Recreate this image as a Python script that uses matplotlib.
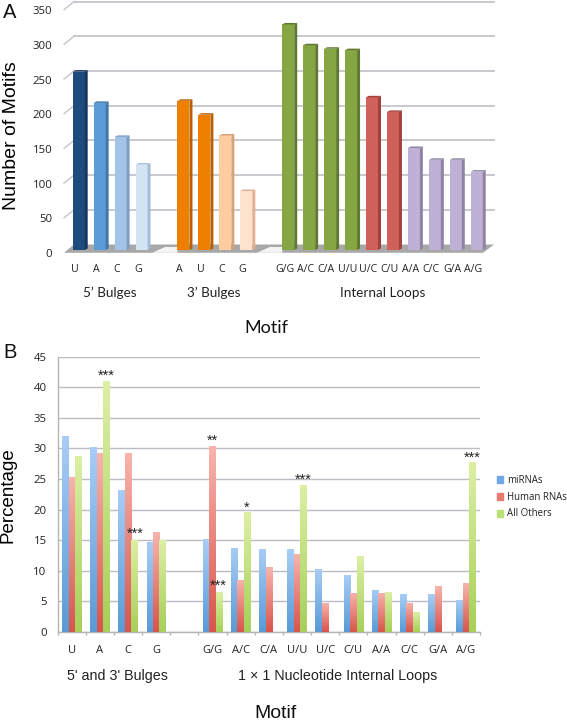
import numpy as np
import matplotlib
matplotlib.use("Agg")
import matplotlib.pyplot as plt
from matplotlib.patches import Polygon, Patch
from matplotlib.transforms import offset_copy
from matplotlib.colors import LinearSegmentedColormap

W, H = 567, 722
# ---- data: panel A
a_labels = ["U","A","C","G","","A","U","C","G","","G/G","A/C","C/A","U/U","U/C","C/U","A/A","C/C","G/A","A/G"]
a_values = [257,212,163,123,0,215,195,165,85,0,325,295,290,288,220,199,147,130,130,113]
a_front = ["#1f4a7c","#5b9bd8","#a4c3e8","#d5e4f3","#fff","#ee7f00","#ee7f00","#fdcda0","#fde3cd","#fff",
           "#86a644","#86a644","#86a644","#86a644","#d0605a","#d0605a","#bfb1d6","#bfb1d6","#bfb1d6","#bfb1d6"]
a_side = ["#17375e","#4478a8","#7f9cc2","#a6bcd6","#fff","#b85f00","#b85f00","#d5a27c","#e0b090","#fff",
          "#5f7a30","#5f7a30","#5f7a30","#5f7a30","#a3403c","#a3403c","#8f84a6","#8f84a6","#8f84a6","#8f84a6"]
a_ticks = [0,50,100,150,200,250,300,350]
# ---- data: panel B
b_labels = ["U","A","C","G","","G/G","A/C","C/A","U/U","U/C","C/U","A/A","C/C","G/A","A/G"]
mirna = [32,30.2,23.2,14.7,0,15.2,13.8,13.6,13.5,10.3,9.3,6.9,6.2,6.2,5.3]
human = [25.4,29.2,29.2,16.3,0,30.4,8.5,10.6,12.8,4.8,6.4,6.4,4.8,7.5,8.0]
others = [28.7,41,15.1,15.1,0,6.5,19.6,0,24.1,0,12.4,6.6,3.2,0,27.8]
star_text = ["***","***","**","***","*","***","***"]
star_x = [1.22,2.26,5.0,5.2,6.22,8.22,14.22]
star_y = [41.9,16.0,31.2,7.5,20.3,24.9,28.4]
b_ticks = list(range(0,50,5))

plt.rcParams["font.family"] = "Liberation Sans"
fig = plt.figure(figsize=(W/100, H/100), dpi=100)

def axes_px(left, top, right, bottom):
    return fig.add_axes([left/W, 1-bottom/H, (right-left)/W, (bottom-top)/H])
def ftext(x, y, s, **kw):
    kw.setdefault("ha","center"); kw.setdefault("va","center")
    return fig.text(x/W, 1-y/H, s, **kw)

# ================= Panel A
L, R, T, B = 64, 494, 0, 254
axA = axes_px(L, T, R, B)
sx, sy = 20.95, 0.694
x0 = 78.7
axA.set_xlim((L-x0)/sx, (R-x0)/sx)
axA.set_ylim((250-B)/sy, (250-T)/sy)
axA.set_facecolor("none")
for s in axA.spines.values(): s.set_visible(False)
back = offset_copy(axA.transData, fig=fig, x=0, y=5.5, units="dots")
xleft, xright = (74-x0)/sx, (494-x0)/sx
xfl = (64-x0)/sx
grid_c = "#c4c4cc"
for v in a_ticks[1:]:
    axA.plot([xleft,xright],[v,v],color=grid_c,lw=1.3,transform=back,clip_on=False,zorder=1)
    axA.plot([xfl,xleft],[v-8/sy+5.5/sy,v+5.5/sy],color=grid_c,lw=1.0,clip_on=False,zorder=1)
# floor
dy0 = -2.8/sy; dy1 = 5.5/sy
axA.add_patch(Polygon([(xfl,dy0),(xleft,dy1),(xright,dy1),((483-x0)/sx,dy0)],closed=True,fc="#a8a8a8",ec="none",zorder=1.5,clip_on=False))
xs = np.arange(len(a_values))
for i,l in enumerate(a_labels):
    if not l:
        axA.add_patch(Polygon([(i-0.5,dy0),(i+0.12,3/sy),(i+0.72,3/sy),(i+0.72,dy0)],closed=True,fc="#f4f4f4",ec="none",zorder=1.6,clip_on=False))
keep = [i for i,l in enumerate(a_labels) if l]
bw = 12/sx
axA.bar(xs[keep],[a_values[i] for i in keep],width=bw,color=[a_front[i] for i in keep],zorder=3)
dx, dh = 3/sx, 1.5/sy
for i in keep:
    xr = xs[i]+bw/2; xl = xs[i]-bw/2; v = a_values[i]
    axA.add_patch(Polygon([(xr,0),(xr+dx,dh),(xr+dx,v+dh),(xr,v)],fc=a_side[i],ec="none",zorder=3))
    axA.add_patch(Polygon([(xl,v),(xl+dx,v+dh),(xr+dx,v+dh),(xr,v)],fc=a_side[i],ec="none",zorder=3))
axA.set_yticks(a_ticks)
axA.set_xticks(xs[keep],[a_labels[i] for i in keep])
axA.tick_params(axis="y",length=0,pad=8.4,labelsize=8.2)
axA.tick_params(axis="x",length=0,pad=7.2,labelsize=7.6)
for t in axA.get_yticklabels():
    t.set_family("Open Sans"); t.set_color("#222222")
    t.set_transform(offset_copy(t.get_transform(),fig=fig,x=0,y=-3,units="dots"))
for t in axA.get_xticklabels():
    t.set_family("Open Sans"); t.set_color("#222222")
    t.set_transform(offset_copy(t.get_transform(),fig=fig,x=-3.7,y=0,units="dots"))
axA.set_ylabel("Number of Motifs",fontsize=14)
axA.yaxis.set_label_coords((20-L)/(R-L),(254-135.5)/254)

for x,s in [(109.5,"5\u2019 Bulges"),(214,"3\u2019 Bulges"),(383,"Internal Loops")]:
    ftext(x,293,s,family="Lato",fontsize=9.7,color="#222222")
ftext(266,328,"Motif",family="Lato",fontsize=13,color="#111111")
ftext(10,12,"A",fontsize=14.5,color="#111111")

# ================= Panel B
axB = axes_px(57.7,356.7,480,632)
axB.set_xlim(-0.5,14.5); axB.set_ylim(0,45)
for k in ("top","right"): axB.spines[k].set_visible(False)
for k in ("left","bottom"):
    axB.spines[k].set_color("#b5b5b5"); axB.spines[k].set_linewidth(1)
axB.set_yticks(b_ticks)
axB.yaxis.grid(True,color="#bcbcc4",lw=1); axB.set_axisbelow(True)
pos = np.arange(len(b_labels))
w = 0.229
series = [(mirna,"miRNAs","#a8cdf6","#5a9ad6"),(human,"Human RNAs","#f8b4ac","#d8554c"),(others,"All Others","#dcefa4","#a6d05a")]
for j,(vals,name,top,bot) in enumerate(series):
    cm = LinearSegmentedColormap.from_list(name,[bot,top])
    bars = axB.bar(pos+(j-1)*w,vals,width=w,color=top,zorder=2.5)
    for b,v in zip(bars,vals):
        if v<=0: continue
        im = axB.imshow(np.linspace(1,0,64)[:,None],cmap=cm,extent=(b.get_x(),b.get_x()+w,0,v),aspect="auto",zorder=2.6)
        im.set_clip_path(b)
axB.set_xlim(-0.5,14.5); axB.set_ylim(0,45)
axB.set_xticks(np.arange(-0.5,15,1),minor=False,labels=[""]*16)
axB.set_xticks(pos,labels=b_labels,minor=True)
axB.tick_params(axis="x",which="major",length=2.5,color="#b5b5b5",width=1)
axB.tick_params(axis="x",which="minor",length=0,pad=9.5,labelsize=8)
axB.tick_params(axis="y",length=0,pad=8,labelsize=8.2)
for t in axB.get_yticklabels()+axB.get_xticklabels(minor=True):
    t.set_family("Open Sans"); t.set_color("#222222")
for s,x,y in zip(star_text,star_x,star_y):
    axB.text(x,y,s,ha="center",va="center",fontsize=10.5,color="#222222",zorder=5)
axB.set_ylabel("Percentage",fontsize=13.5)
axB.yaxis.set_label_coords((17-57.7)/(480-57.7),(632-495)/(632-356.7))
handles = [Patch(color=c) for c in ("#6fa8e4","#ea7a70","#bcdf78")]
leg = fig.legend(handles,[s[1] for s in series],loc="center left",bbox_to_anchor=(497/W,1-497/H),frameon=False,
           prop={"family":"Open Sans","size":6.9},handlelength=0.65,handleheight=0.75,handletextpad=0.4,labelspacing=0.62,borderpad=0,borderaxespad=0)
for t in leg.get_texts(): t.set_color("#222222")
ftext(117,676,"5' and 3' Bulges",fontsize=10.3,color="#222222")
ftext(337.5,676,"1 \u00d7 1 Nucleotide Internal Loops",fontsize=10.3,color="#222222")
ftext(276,714,"Motif",fontsize=14,color="#111111")
ftext(10,352,"B",fontsize=14.5,color="#111111")

fig.savefig("out.png",dpi=100)
